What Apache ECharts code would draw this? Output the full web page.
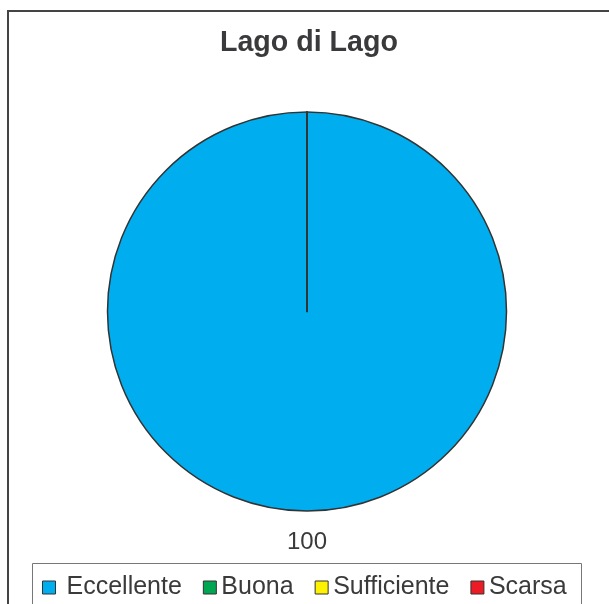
<!DOCTYPE html>
<html>
<head>
<meta charset="utf-8">
<script src="https://cdn.jsdelivr.net/npm/echarts@6/dist/echarts.min.js"></script>
<style>
html,body{margin:0;padding:0;background:#fff;}
#main{width:609px;height:604px;}
</style>
</head>
<body>
<div id="main"></div>
<script>
const chartTitle = 'Lago di Lago';
const categories = ['Eccellente', 'Buona', 'Sufficiente', 'Scarsa'];
const values = [100, 0, 0, 0];
const colors = ['#00AEEF', '#00A651', '#FFF200', '#ED1C24'];

const chart = echarts.init(document.getElementById('main'), null, {renderer: 'canvas'});
const data = categories.map((name, i) => ({
  name: name,
  value: values[i],
  itemStyle: {color: colors[i]},
  label: {show: values[i] > 0}
}));
const legendData = categories.map((name, i) => (
  i === 0 ? {name: name, textStyle: {padding: [0, 3, 5, 6]}} : {name: name}
));

chart.setOption({
  animation: false,
  backgroundColor: '#ffffff',
  title: {
    text: chartTitle,
    left: 220,
    top: 29,
    padding: 0,
    textStyle: {fontFamily: 'Liberation Sans', fontWeight: 'bold', fontSize: 28.6, color: '#3a3a3c'}
  },
  graphic: [
    {type: 'rect', shape: {x: 8, y: 11, width: 640, height: 640}, style: {fill: 'none', stroke: '#444', lineWidth: 2}, silent: true, z: 0},
    {type: 'rect', shape: {x: 32.5, y: 563.5, width: 549, height: 80}, style: {fill: 'none', stroke: '#777', lineWidth: 1}, silent: true, z: 0}
  ],
  legend: {
    data: legendData,
    left: 32,
    top: 575,
    padding: [0, 0, 0, 10],
    icon: 'rect',
    itemWidth: 13,
    itemHeight: 13,
    itemGap: 21,
    itemStyle: {borderColor: '#333', borderWidth: 1},
    textStyle: {fontFamily: 'Liberation Sans', fontSize: 25, color: '#3a3a3c', padding: [0, 0, 5, 0]}
  },
  series: [{
    type: 'pie',
    center: [307, 311.5],
    radius: [0, 199.5],
    startAngle: 90,
    clockwise: true,
    data: data,
    itemStyle: {borderColor: '#333', borderWidth: 1.5},
    label: {
      position: 'inside',
      offset: [0, 128],
      formatter: '{c}',
      fontFamily: 'Liberation Sans',
      fontSize: 24,
      color: '#3a3a3c'
    },
    labelLine: {show: false},
    emphasis: {disabled: true}
  }]
});
</script>
</body>
</html>
